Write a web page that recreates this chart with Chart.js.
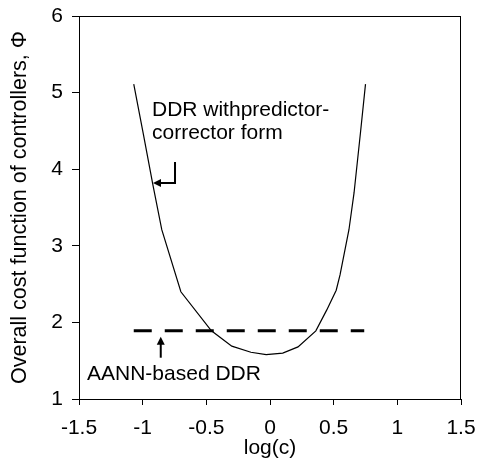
<!DOCTYPE html>
<html lang="en">
<head>
    <meta charset="UTF-8">
    <title>Overall cost function</title>
    <script src="https://cdn.jsdelivr.net/npm/chart.js"></script>
    <style>
        html, body { margin: 0; padding: 0; background: #fff; }
        #chart { display: block; }
    </style>
</head>
<body>
    <canvas id="chart" width="478" height="459"></canvas>

    <script>
        // DDR with predictor-corrector form
        const logC = [-1.07, -0.995, -0.92, -0.85, -0.70, -0.46, -0.30, -0.15, -0.03, 0.10, 0.22, 0.36, 0.445, 0.52, 0.55, 0.62, 0.66, 0.71, 0.75];
        const phi  = [5.11, 4.46, 3.80, 3.21, 2.40, 1.89, 1.69, 1.61, 1.58, 1.60, 1.68, 1.89, 2.16, 2.42, 2.62, 3.21, 3.69, 4.47, 5.11];
        // AANN-based DDR (constant)
        const aannX = [-1.07, 0.74];
        const aannY = [1.89, 1.89];
        const xTicks = [-1.5, -1, -0.5, 0, 0.5, 1, 1.5];
        const yTicks = [1, 2, 3, 4, 5, 6];

        const FONT = 'Liberation Sans, Arial, sans-serif';

        // annotations, placed in data units
        const notes = {
            ddrLines: ['DDR withpredictor-', 'corrector form'],
            ddrAt: [-0.927, 4.773, 4.473],
            bracket: { x: -0.746, yTop: 4.094, yCorner: 3.82, tipX: -0.919 },
            aannText: 'AANN-based DDR',
            aannAt: [-1.437, 1.326],
            aannArrow: { x: -0.858, tip: 1.813, tail: 1.539 }
        };

        function arrowHead(ctx, x, y, dir) {
            const L = 8, W = 4;
            ctx.beginPath();
            if (dir === 'left') {
                ctx.moveTo(x, y); ctx.lineTo(x + L, y - W); ctx.lineTo(x + L, y + W);
            } else {
                ctx.moveTo(x, y); ctx.lineTo(x - W, y + L); ctx.lineTo(x + W, y + L);
            }
            ctx.closePath();
            ctx.fill();
        }

        const extras = {
            id: 'extras',
            afterDraw(chart) {
                const { ctx, chartArea: a, scales: { x, y } } = chart;
                ctx.save();
                ctx.strokeStyle = '#000';
                ctx.fillStyle = '#000';
                ctx.lineWidth = 1;
                ctx.strokeRect(a.left + 0.5, a.top + 0.5, a.right - a.left - 1, a.bottom - a.top);

                ctx.font = '21px ' + FONT;
                ctx.textBaseline = 'middle';
                ctx.textAlign = 'left';
                const [dx, dy1, dy2] = notes.ddrAt;
                ctx.fillText(notes.ddrLines[0], x.getPixelForValue(dx), y.getPixelForValue(dy1));
                ctx.fillText(notes.ddrLines[1], x.getPixelForValue(dx), y.getPixelForValue(dy2));
                ctx.fillText(notes.aannText, x.getPixelForValue(notes.aannAt[0]), y.getPixelForValue(notes.aannAt[1]));

                ctx.lineWidth = 2;
                const b = notes.bracket;
                const bx = x.getPixelForValue(b.x), by = y.getPixelForValue(b.yCorner);
                const tx = x.getPixelForValue(b.tipX);
                ctx.beginPath();
                ctx.moveTo(bx, y.getPixelForValue(b.yTop));
                ctx.lineTo(bx, by);
                ctx.lineTo(tx + 6, by);
                ctx.stroke();
                arrowHead(ctx, tx, by, 'left');

                const ar = notes.aannArrow;
                const ax = x.getPixelForValue(ar.x), tip = y.getPixelForValue(ar.tip);
                ctx.beginPath();
                ctx.moveTo(ax, y.getPixelForValue(ar.tail));
                ctx.lineTo(ax, tip + 6);
                ctx.stroke();
                arrowHead(ctx, ax, tip, 'up');
                ctx.restore();
            }
        };

        new Chart(document.getElementById('chart'), {
            type: 'scatter',
            data: {
                datasets: [{
                    label: 'DDR with predictor-corrector form',
                    data: logC.map((v, i) => ({ x: v, y: phi[i] })),
                    showLine: true,
                    borderColor: '#000',
                    borderWidth: 1.2,
                    pointRadius: 0,
                    tension: 0
                }, {
                    label: 'AANN-based DDR',
                    data: aannX.map((v, i) => ({ x: v, y: aannY[i] })),
                    showLine: true,
                    borderColor: '#000',
                    borderWidth: 3,
                    borderDash: [18, 13],
                    pointRadius: 0
                }]
            },
            options: {
                responsive: false,
                animation: false,
                layout: { padding: { top: 16, right: 17, left: 0, bottom: 0 } },
                plugins: { legend: { display: false }, tooltip: { enabled: false } },
                scales: {
                    x: {
                        type: 'linear',
                        min: -1.5, max: 1.5,
                        afterBuildTicks: s => { s.ticks = xTicks.map(v => ({ value: v })); },
                        afterFit: s => { s.height = 60; },
                        grid: { drawOnChartArea: false, tickLength: 6, color: '#000' },
                        border: { color: '#000', width: 1 },
                        ticks: { color: '#000', padding: 0, callback: v => String(v), font: { family: FONT, size: 21, lineHeight: 2.25 } },
                        title: { display: true, text: 'log(c)', color: '#000', padding: { bottom: 0 }, font: { family: FONT, size: 21, lineHeight: 1 } }
                    },
                    y: {
                        type: 'linear',
                        min: 1, max: 6,
                        afterBuildTicks: s => { s.ticks = yTicks.map(v => ({ value: v })); },
                        afterFit: s => { s.width = 79; },
                        grid: { drawOnChartArea: false, tickLength: 7, color: '#000' },
                        border: { color: '#000', width: 1 },
                        ticks: { color: '#000', padding: 9, callback: v => String(v), font: { family: FONT, size: 21, lineHeight: 0.6 } },
                        title: { display: true, text: 'Overall cost function of controllers, Φ', color: '#000', padding: { top: 7 }, font: { family: FONT, size: 21.5 } }
                    }
                }
            },
            plugins: [extras]
        });
    </script>
</body>
</html>
